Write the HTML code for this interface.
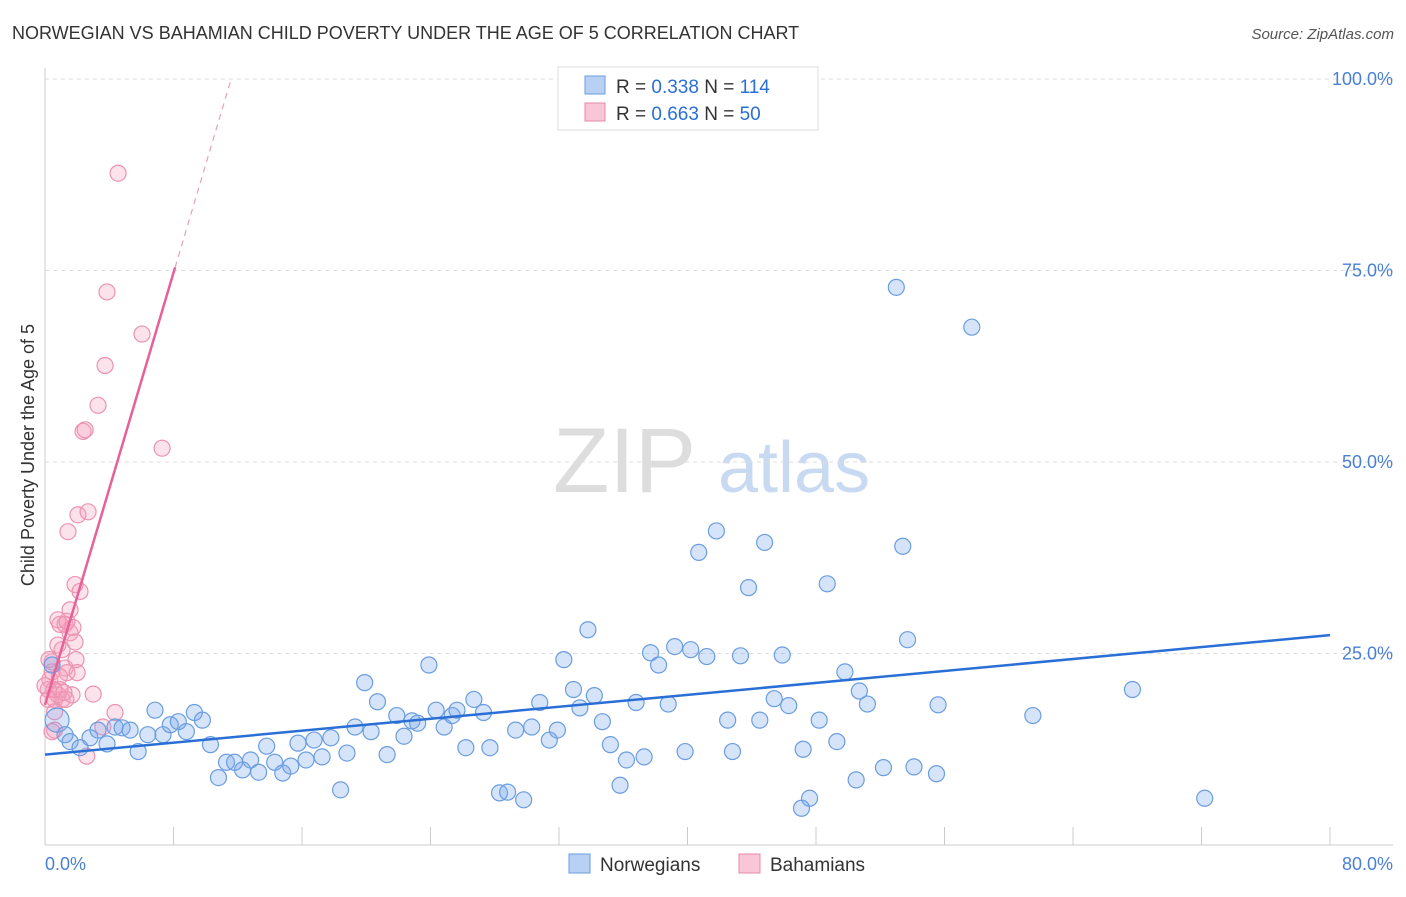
<!DOCTYPE html>
<html><head><meta charset="utf-8"><style>
body{margin:0;background:#fff;font-family:"Liberation Sans",sans-serif;}
svg text{font-family:"Liberation Sans",sans-serif;}
</style></head><body>
<svg id="c" width="1406" height="892" xmlns="http://www.w3.org/2000/svg">
<text x="12" y="39" font-size="18" fill="#333">NORWEGIAN VS BAHAMIAN CHILD POVERTY UNDER THE AGE OF 5 CORRELATION CHART</text>
<text x="1394" y="39" font-size="15" fill="#555" text-anchor="end" font-style="italic">Source: ZipAtlas.com</text>
<g><text x="553" y="492" font-size="92" fill="#ddd" font-family="Liberation Serif" >ZIP</text><text x="718" y="492" font-size="72" fill="#c8daf2">atlas</text></g>
<g id="grid"></g><g id="marks"></g>
<text transform="translate(34,455) rotate(-90)" font-size="18" fill="#333" text-anchor="middle">Child Poverty Under the Age of 5</text>
<text x="45" y="870" font-size="18" fill="#4a7fd6">0.0%</text>
<text x="1393" y="870" font-size="18" fill="#4a7fd6" text-anchor="end">80.0%</text>
<g>
<rect x="558" y="67" width="260" height="63" fill="#fff" stroke="#ddd"/>
<rect x="585" y="76" width="20" height="18" fill="#b7d0f4" stroke="#6a9de0"/>
<rect x="585" y="103" width="20" height="18" fill="#f8c6d6" stroke="#e88aa8"/>
<text x="616" y="93" font-size="19" fill="#333">R = <tspan fill="#2a6fd6">0.338</tspan>   N = <tspan fill="#2a6fd6">114</tspan></text>
<text x="616" y="120" font-size="19" fill="#333">R = <tspan fill="#2a6fd6">0.663</tspan>   N = <tspan fill="#2a6fd6"> 50</tspan></text>
</g>
<g>
<rect x="569" y="854" width="21" height="19" fill="#b7d0f4" stroke="#6a9de0"/>
<text x="600" y="871" font-size="19" fill="#333">Norwegians</text>
<rect x="739" y="854" width="21" height="19" fill="#f8c6d6" stroke="#e88aa8"/>
<text x="770" y="871" font-size="19" fill="#333">Bahamians</text>
</g>
</svg>
<script>
const yTicks=[25,50,75,100];
const yTickLabels=["25.0%","50.0%","75.0%","100.0%"];
const xTicks=[0,8,16,24,32,40,48,56,64,72,80];
const norX=[0.75,0.44,1.25,1.56,2.18,2.8,3.3,3.86,4.36,4.8,5.3,5.8,6.4,6.85,7.35,7.8,8.3,8.8,9.3,9.8,10.3,10.8,11.3,11.8,12.3,12.8,13.3,13.8,14.3,14.8,15.3,15.75,16.25,16.75,17.25,17.8,18.4,18.8,19.3,19.9,20.3,20.7,21.3,21.9,22.35,22.85,23.2,23.9,24.35,24.85,25.35,25.65,26.2,26.7,27.3,27.7,28.3,28.8,29.3,29.8,30.3,30.8,31.4,31.9,32.3,32.9,33.3,33.8,34.2,34.7,35.2,35.8,36.2,36.8,37.3,37.7,38.2,38.8,39.2,39.85,40.2,40.7,41.2,41.8,42.5,42.8,43.3,43.8,44.5,44.8,45.4,45.9,46.3,47.1,47.2,47.6,48.2,48.7,49.3,49.8,50.5,50.7,51.2,52.2,53.0,53.4,53.7,54.1,55.5,55.6,57.7,61.5,67.7,72.2];
const norY=[16.3,23.5,14.4,13.5,12.7,14.0,15.0,13.2,15.4,15.3,15.0,12.2,14.4,17.6,14.4,15.7,16.1,14.8,17.3,16.3,13.1,8.8,10.8,10.8,9.8,11.1,9.5,12.9,10.8,9.4,10.3,13.3,11.1,13.7,11.5,14.0,7.2,12.0,15.4,21.2,14.8,18.7,11.8,16.9,14.2,16.2,15.9,23.5,17.6,15.4,16.9,17.6,12.7,19.0,17.3,12.7,6.8,6.9,15.0,5.9,15.4,18.6,13.7,15.0,24.2,20.3,17.9,28.1,19.5,16.1,13.1,7.8,11.1,18.6,11.5,25.1,23.5,18.4,25.9,12.2,25.5,38.2,24.6,41.0,16.3,12.2,24.7,33.6,16.3,39.5,19.1,24.8,18.2,4.8,12.5,6.1,16.3,34.1,13.5,22.6,8.5,20.1,18.4,10.1,72.8,39.0,26.8,10.2,9.3,18.3,67.6,16.9,20.3,6.1];
const bahX=[0.44,0.3,0.2,0.6,0.8,1.06,0.6,0.8,0.93,1.25,1.56,1.87,1.56,1.25,1.37,1.43,1.87,2.18,2.05,2.68,2.37,2.5,3.3,3.74,3.86,4.55,6.04,7.29,1.93,2.0,3.0,4.36,3.6,2.6,1.68,0.93,0.44,0.6,1.18,0.2,0.8,1.37,1.74,0.44,1.06,0.25,0.56,0.0,1.3,0.9];
const bahY=[23.9,21.6,20.3,19.0,19.6,19.0,15.0,26.1,28.8,28.8,27.7,26.5,30.7,23.1,22.5,40.9,34.0,33.1,43.1,43.5,54.0,54.2,57.4,62.6,72.2,87.7,66.7,51.8,24.2,22.5,19.7,17.3,15.4,11.6,19.6,20.3,14.8,17.4,19.9,19.0,29.4,29.2,28.4,22.6,25.5,24.2,20.3,20.8,19.0,22.0];
const norTrend=[11.8,27.4];
const bahTrend=[18.3,7.05];
const X0=45,X1=1330,Y0=845,Y100=79;
const sx=v=>X0+(X1-X0)*v/80;
const sy=v=>Y0-(Y0-Y100)*v/100;
const NS="http://www.w3.org/2000/svg";
function mk(t,a,p){const e=document.createElementNS(NS,t);for(const k in a)e.setAttribute(k,a[k]);p.appendChild(e);return e;}
const g=document.getElementById('grid'),m=document.getElementById('marks');
yTicks.forEach((t,i)=>{
 const l=mk('line',{x1:X0,x2:1393,y1:sy(t),y2:sy(t),stroke:'#ddd','stroke-dasharray':'4,4'},g);
 
 
 const tx=mk('text',{x:1393,y:sy(t)+6,'font-size':18,fill:'#4a7fd6','text-anchor':'end'},g);
 tx.textContent=yTickLabels[i];
 
 
});
const ax=mk('line',{x1:X0,x2:1393,y1:Y0,y2:Y0,stroke:'#ccc'},g);


const ay=mk('line',{x1:X0,x2:X0,y1:68,y2:Y0,stroke:'#ccc'},g);


xTicks.forEach(t=>{
 const l=mk('line',{x1:sx(t),x2:sx(t),y1:Y0,y2:Y0-18,stroke:'#ccc'},g);
 
 
});
bahX.forEach((v,i)=>{
 const c=mk('circle',{cx:sx(v),cy:sy(bahY[i]),r:8,fill:'rgba(244,160,190,0.3)',stroke:'#ec93b0','stroke-width':1.2},m);
 
 
});
norX.forEach((v,i)=>{
 const c=mk('circle',{cx:sx(v),cy:sy(norY[i]),r:i==0?12:8,fill:'rgba(120,165,235,0.3)',stroke:'#6a9de0','stroke-width':1.2},m);
 
 
});
const nl=mk('line',{x1:sx(0),y1:sy(norTrend[0]),x2:sx(80),y2:sy(norTrend[1]),stroke:'#2a6fd6','stroke-width':2.5},m);


const xe=8.1,xd=(100-bahTrend[0])/bahTrend[1];
const bl=mk('line',{x1:sx(0),y1:sy(bahTrend[0]),x2:sx(xe),y2:sy(bahTrend[0]+bahTrend[1]*xe),stroke:'#e8609a','stroke-width':2.5},m);


const bd=mk('line',{x1:sx(xe),y1:sy(bahTrend[0]+bahTrend[1]*xe),x2:sx(xd),y2:sy(100),stroke:'#e8a0bc','stroke-width':1.2,'stroke-dasharray':'6,5'},m);


</script>
</body></html>
